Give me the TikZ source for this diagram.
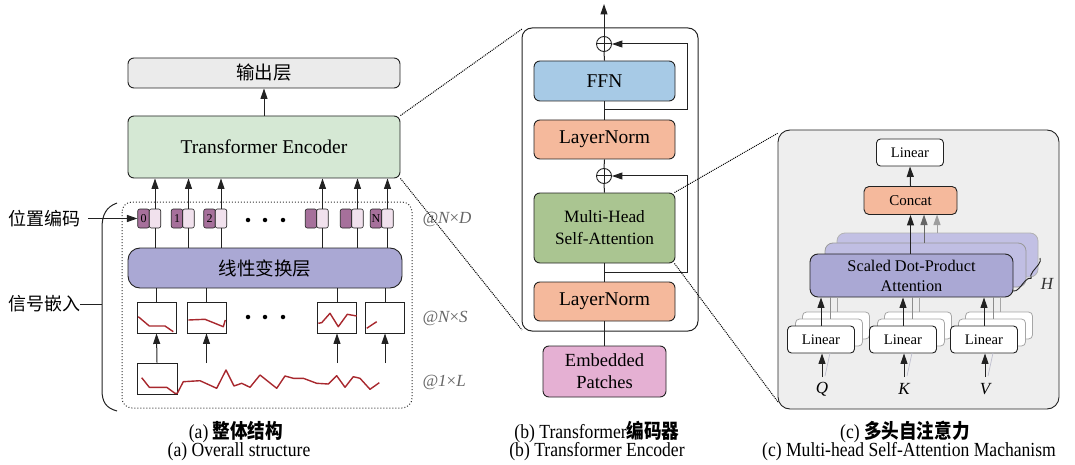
\documentclass[tikz,border=0pt]{standalone}
\usepackage{fontspec}
\setmainfont{Liberation Serif}
\newfontfamily\cjk{Noto Sans CJK SC}
\usetikzlibrary{arrows.meta,decorations.pathreplacing,calc}
\definecolor{outgray}{HTML}{EBEBEB}
\definecolor{encgreen}{HTML}{D5E8D4}
\definecolor{lavender}{HTML}{AAA8D4}
\definecolor{lavlight}{HTML}{C2C0E4}
\definecolor{tokdark}{HTML}{A6709B}
\definecolor{toklight}{HTML}{F1E1ED}
\definecolor{ffnblue}{HTML}{A7CAE6}
\definecolor{salmon}{HTML}{F5B99C}
\definecolor{mhsagreen}{HTML}{AAC591}
\definecolor{embpink}{HTML}{E5B0D3}
\definecolor{panelgray}{HTML}{EEEEEE}
\definecolor{sigred}{HTML}{A8282E}
\definecolor{edge}{HTML}{222222}
\newcommand{\capx}[1]{\scalebox{0.88}[1]{#1}}
\begin{document}
\begin{tikzpicture}[x=1pt,y=-1pt,
  bx/.style={draw=edge, line width=0.9pt, rounded corners=6pt, inner sep=0pt},
  arr/.style={-{Triangle[length=10.5pt,width=7pt]}, line width=1pt, draw=edge},
  ln/.style={line width=1pt, draw=edge},
  tokd/.style={draw=edge, line width=0.6pt, fill=tokdark, rounded corners=2pt, minimum width=11.5pt, minimum height=19pt, inner sep=0pt, font=\fontsize{12}{12}\selectfont},
  tokl/.style={draw=edge, line width=0.6pt, fill=toklight, rounded corners=2pt, minimum width=11.5pt, minimum height=19pt, inner sep=0pt},
  patch/.style={draw=edge, line width=0.9pt, fill=white, minimum width=39pt, minimum height=31pt, inner sep=0pt},
  sig/.style={draw=sigred, line width=1.4pt, line join=round},
  dimlab/.style={text=black!60, font=\fontsize{17}{17}\selectfont\itshape},
  linbox/.style={draw=edge, line width=0.9pt, fill=white, rounded corners=4pt, minimum width=67pt, minimum height=27pt, inner sep=0pt, font=\fontsize{14.6}{14.6}\selectfont},
  linback/.style={draw=black!35, line width=0.8pt, fill=white, rounded corners=4pt, minimum width=67pt, minimum height=27pt, inner sep=0pt},
  plus/.style={circle, draw=edge, line width=0.9pt, minimum size=15pt, inner sep=0pt},
  mag/.style={densely dotted, line width=1pt, draw=black},
  dotc/.style={circle, fill=black, inner sep=0pt, minimum size=4.5pt}
]
\useasboundingbox (0,0) rectangle (1075,465);

% ================= Panel (a) =================
\node[bx, fill=outgray, minimum width=272pt, minimum height=30pt, font=\cjk\fontsize{18.5}{18.5}\selectfont] (out) at (264,73) {输出层};
\node[bx, fill=encgreen, minimum width=272pt, minimum height=62pt, font=\fontsize{19.5}{19.5}\selectfont] (enc) at (264,147) {Transformer Encoder};
\draw[arr] (enc.north) -- (out.south);

\draw[dotted, line width=1pt, rounded corners=10pt, draw=black!80] (122,202) rectangle (412,408);

\node[bx, fill=lavender, rounded corners=12pt, minimum width=274pt, minimum height=40pt, font=\cjk\fontsize{18.5}{18.5}\selectfont] (lin) at (265,268) {线性变换层};

\foreach \x/\t/\n in {155/0/0, 188.5/1/1, 221/2/2, 322.5//3, 357.5//4, 387.5/N/5}{
  \node[tokd] (d\n) at (\x-11.5,218.5) {\t};
  \node[tokl] (l\n) at (\x,218.5) {};
  \draw[arr] (l\n.north) -- (l\n.north |- enc.south);
  \draw[ln] (l\n.south) -- (l\n.south |- lin.north);
}
\node[dotc] (td1) at (248,220) {};
\node[dotc] (td2) at (265,220) {};
\node[dotc] (td3) at (283,220) {};

\foreach \x/\n in {156.5/1, 206.5/2, 337/3, 385/4}{
  \node[patch] (p\n) at (\x,317.5) {};
  \draw[ln] (p\n.north) -- (p\n.north |- lin.south);
}
\node[dotc] (pd1) at (248,317) {};
\node[dotc] (pd2) at (265,317) {};
\node[dotc] (pd3) at (283,317) {};

\node[patch, minimum width=40pt] (b0) at (157,378.5) {};
\coordinate (s2) at (206.5,363);
\coordinate (s3) at (337,363);
\coordinate (s4) at (385,363);
\draw[arr] (b0.north) -- (p1.south);
\draw[arr] (s2) -- (p2.south);
\draw[arr] (s3) -- (p3.south);
\draw[arr] (s4) -- (p4.south);

% signals
\draw[sig] plot coordinates {(141.7,377.7) (149.3,387.3) (166.7,387.3) (175,393.3) (177.3,393.3) (183.3,381.7) (200,380.7) (216.7,388.3) (226,370) (234,386) (241.7,383.3) (250,387.3) (260,375) (276.7,388.3) (285,376) (293.3,378.3) (303.3,378.3) (316.7,383.3) (328.3,384) (336.7,375.7) (345,387.3) (353.3,376.7) (360,378.3) (370,389.3) (379.3,382.7)};
\draw[sig] plot coordinates {(138.3,316.7) (149.3,326) (165,326) (173.3,331.7)};
\draw[sig] plot coordinates {(188.3,320) (205,319.3) (223.3,326.7) (225.3,320)};
\draw[sig] plot coordinates {(318.3,323.3) (321.7,322.7) (330,313.3) (338.3,326.7) (347.3,314.3) (356.7,316)};
\draw[sig] plot coordinates {(366.7,328.3) (376.7,321.7)};

% side labels
\node[font=\cjk\fontsize{18}{18}\selectfont, anchor=west, inner sep=0pt] (pos) at (8,218.5) {位置编码};
\node[font=\cjk\fontsize{18}{18}\selectfont, anchor=west, inner sep=0pt] (sig) at (8,304) {信号嵌入};
\draw[ln] (117,203) .. controls (106,207) and (102,215) .. (102,228) -- (102,390) .. controls (102,402) and (106,408) .. (117,411);
\draw[arr] ($(pos.east)+(8,0)$) -- (d0.west);
\draw[ln] (sig.east) -- (102,304);

\node[dimlab, anchor=west] (dimD) at (419,219) {@N{\upshape ×}D};
\node[dimlab, anchor=west] (dimS) at (419,318) {@N{\upshape ×}S};
\node[dimlab, anchor=west] (dimL) at (419,382) {@1{\upshape ×}L};

% ================= Panel (b) =================
\draw[ln, rounded corners=10pt] (522,28) rectangle (698,331);
\node[plus] (c1) at (604,44) {};
\draw[ln] (c1.north) -- (c1.south) (c1.west) -- (c1.east);
\node[bx, fill=ffnblue, minimum width=141pt, minimum height=40pt, font=\fontsize{19.5}{19.5}\selectfont] (ffn) at (604.5,81) {FFN};
\node[bx, fill=salmon, minimum width=141pt, minimum height=39pt, font=\fontsize{19.5}{19.5}\selectfont] (ln1) at (604.5,139.5) {LayerNorm};
\node[plus] (c2) at (604,176) {};
\draw[ln] (c2.north) -- (c2.south) (c2.west) -- (c2.east);
\node[bx, fill=mhsagreen, minimum width=141pt, minimum height=70pt, align=center, font=\fontsize{17.3}{22}\selectfont] (mhsa) at (604.5,228) {Multi-Head\\Self-Attention};
\node[bx, fill=salmon, minimum width=141pt, minimum height=39pt, font=\fontsize{19.5}{19.5}\selectfont] (ln2) at (604.5,301.5) {LayerNorm};
\node[bx, fill=embpink, minimum width=123pt, minimum height=51pt, align=center, font=\fontsize{18.5}{22}\selectfont] (emb) at (604.5,371.5) {Embedded\\Patches};
\coordinate (topout) at (604,4);
\draw[ln] (emb.north) -- (ln2.south);
\draw[ln] (ln2.north) -- (mhsa.south);
\draw[ln] (mhsa.north) -- (c2.south);
\draw[ln] (c2.north) -- (ln1.south);
\draw[ln] (ln1.north) -- (ffn.south);
\draw[ln] (ffn.north) -- (c1.south);
\draw[arr] (c1.north) -- (topout);
\coordinate (r1) at (604,110);
\coordinate (r2) at (604,272);
\draw[arr] (r1) -- (687,110) -- (687,44) -- (c1.east);
\draw[arr] (r2) -- (687,272) -- (687,176) -- (c2.east);

% magnify lines (a)->(b)
\draw[mag] (enc.north east) -- (522,29);
\draw[mag] (enc.south east) -- (522,330);

% ================= Panel (c) =================
\draw[line width=0.9pt, draw=edge, fill=panelgray, rounded corners=12pt] (778,130) rectangle (1059,409);
\draw[mag] ([xshift=-1pt]mhsa.north east) -- (778,133);
\draw[mag] ([xshift=-1pt]mhsa.south east) -- (778,402);

\node[linbox] (lt) at (910,152.5) {Linear};
\node[bx, fill=salmon, rounded corners=5pt, minimum width=93pt, minimum height=28pt, font=\fontsize{15}{15}\selectfont] (cc) at (910.5,200.5) {Concat};
\draw[arr] (cc.north) -- (lt.south);

\node[draw=black!30, line width=0.8pt, fill=lavlight, rounded corners=8pt, minimum width=201pt, minimum height=44pt, inner sep=0pt] (sd2) at (937.5,255) {};
\node[draw=black!40, line width=0.8pt, fill=lavlight!92!lavender, rounded corners=8pt, minimum width=201pt, minimum height=44pt, inner sep=0pt] (sd1) at (925.5,265) {};
\node[draw=edge, line width=0.9pt, fill=lavender, rounded corners=8pt, minimum width=203pt, minimum height=43pt, inner sep=0pt, align=center, font=\fontsize{16.3}{20}\selectfont] (sd) at (911.5,275.5) {Scaled Dot-Product\\Attention};
\draw[arr] (sd.north -| cc) -- (cc.south);
\draw[arr, draw=black!60] (924,243) -- (924,214.5);
\draw[arr, draw=black!38] (937,233) -- (937,214.5);
\draw[line width=0.9pt, draw=edge, decorate, decoration={brace, amplitude=6pt}] (1040,258) -- (1013,291);
\node[font=\fontsize{17}{17}\selectfont\itshape, text=black!80] (H) at (1047,284) {H};

\foreach \x/\n/\lab in {821/1/Q, 903/2/K, 984/3/V}{
  \node[linback] (lbb\n) at (\x+15,325.5) {};
  \node[linback] (lba\n) at (\x+8,332.5) {};
  \node[linbox] (lf\n) at (\x,339.5) {Linear};
  \draw[line width=0.8pt, draw=black!35] ({\x+16},312) -- ({\x+16},297);
  \draw[line width=0.8pt, draw=black!45] ({\x+9},319) -- ({\x+9},297);
  \draw[arr] (lf\n.north) -- (lf\n.north |- sd.south);
  \node[font=\fontsize{17}{17}\selectfont\itshape] (in\n) at (\x+1,389) {\lab};
  \coordinate (ia\n) at (\x+1,377);
  \draw[line width=0.7pt, draw=blue!25!black!25] ({\x+4},376) -- ({\x+9},353);
  \draw[arr] (ia\n) -- (lf\n.south -| ia\n);
}

% ================= Captions =================
\node[font=\fontsize{20}{20}\selectfont] (capa1) at (236,432) {\capx{(a) {\cjk\bfseries 整体结构}}};
\node[font=\fontsize{20}{20}\selectfont] (capa2) at (239,452) {\capx{(a) Overall structure}};
\node[font=\fontsize{20}{20}\selectfont] (capb1) at (597,432) {\capx{(b) Transformer{\cjk\bfseries 编码器}}};
\node[font=\fontsize{20}{20}\selectfont] (capb2) at (597,452) {\capx{(b) Transformer Encoder}};
\node[font=\fontsize{20}{20}\selectfont] (capc1) at (905,432) {\capx{(c) {\cjk\bfseries 多头自注意力}}};
\node[font=\fontsize{20}{20}\selectfont] (capc2) at (909,452) {\capx{(c) Multi-head Self-Attention Machanism}};
\end{tikzpicture}
\end{document}
